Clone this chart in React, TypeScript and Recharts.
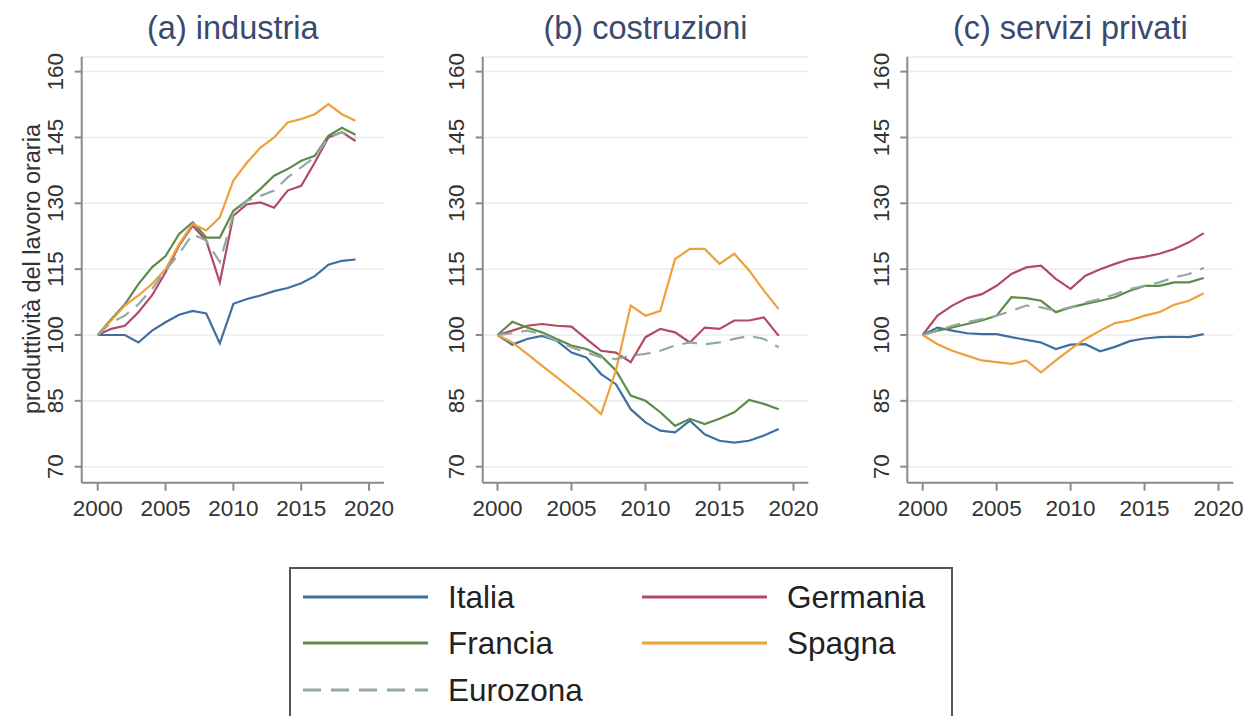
import { LineChart, Line, XAxis, YAxis, CartesianGrid, Label } from 'recharts';

const years = [2000, 2001, 2002, 2003, 2004, 2005, 2006, 2007, 2008, 2009, 2010, 2011, 2012, 2013, 2014, 2015, 2016, 2017, 2018, 2019];
const xTicks = [2000, 2005, 2010, 2015, 2020];
const yTicks = [70, 85, 100, 115, 130, 145, 160];

// (a) industria
const indItalia = [100, 100, 100, 98.3, 101, 102.9, 104.6, 105.5, 104.9, 98.1, 107.1, 108.2, 109, 110, 110.7, 111.8, 113.4, 116, 116.9, 117.2];
const indGermania = [100, 101.4, 102.1, 105.2, 109, 114.3, 120.4, 124.9, 121.5, 112, 127.2, 129.8, 130.2, 129, 132.9, 134, 139.3, 145, 146.2, 144.2];
const indFrancia = [100, 103.6, 107, 111.6, 115.4, 118, 123, 125.7, 122.2, 122.2, 128.3, 130.6, 133.3, 136.3, 137.8, 139.7, 140.8, 145.4, 147.2, 145.6];
const indSpagna = [100, 103.3, 106.7, 109, 111.6, 115, 120.7, 125.3, 123.8, 126.8, 135.2, 139.3, 142.7, 145, 148.4, 149.2, 150.3, 152.6, 150.3, 148.8];
const indEuro = [100, 102.9, 104.4, 107, 110.5, 114.7, 118.5, 123, 121.5, 116.6, 127.6, 130.6, 131.7, 132.9, 135.9, 138.2, 140.5, 145, 146.2, 145];

// (b) costruzioni
const cosItalia = [100, 97.8, 99.1, 99.8, 98.7, 96, 94.9, 91.1, 88.8, 83.1, 80.1, 78.2, 77.8, 80.5, 77.4, 75.9, 75.5, 75.9, 77.1, 78.6];
const cosGermania = [100, 101, 102.1, 102.5, 102.1, 101.9, 99.1, 96.4, 96, 93.8, 99.5, 101.4, 100.6, 98.3, 101.7, 101.4, 103.3, 103.3, 104, 99.8];
const cosFrancia = [100, 103, 101.7, 100.6, 99.1, 97.6, 96.8, 95.3, 91.9, 86.2, 85, 82.4, 79.3, 80.9, 79.7, 80.9, 82.4, 85.2, 84.3, 83.1];
const cosSpagna = [100, 98.3, 95.7, 93, 90.4, 87.7, 85, 82, 91.9, 106.7, 104.4, 105.5, 117.3, 119.6, 119.6, 116.2, 118.5, 114.7, 110.1, 105.9];
const cosEuro = [100, 100.4, 101, 100.2, 98.7, 97.2, 96, 94.9, 94.5, 95.3, 95.7, 96.4, 97.6, 98.3, 97.9, 98.3, 99.1, 99.8, 99.1, 97.2];

// (c) servizi privati
const serItalia = [100, 101.7, 101, 100.4, 100.2, 100.2, 99.5, 98.9, 98.3, 96.8, 97.8, 97.9, 96.3, 97.3, 98.6, 99.2, 99.5, 99.6, 99.5, 100.2];
const serGermania = [100, 104.4, 106.7, 108.4, 109.3, 111.2, 113.9, 115.4, 115.8, 112.8, 110.5, 113.5, 115, 116.2, 117.3, 117.8, 118.5, 119.6, 121.1, 123.2];
const serFrancia = [100, 101, 101.7, 102.5, 103.3, 104.4, 108.6, 108.4, 107.8, 105.2, 106.3, 107.1, 107.8, 108.6, 110.1, 111.2, 111.2, 112, 112, 113];
const serSpagna = [100, 97.9, 96.4, 95.3, 94.2, 93.8, 93.4, 94.2, 91.5, 94.2, 96.8, 99.1, 101, 102.7, 103.3, 104.4, 105.2, 106.9, 107.8, 109.5];
const serEuro = [100, 101, 102.1, 102.9, 103.6, 104.4, 105.5, 106.7, 106.3, 105.5, 106.3, 107.4, 108.2, 109.3, 110.5, 111.2, 112, 113.1, 113.9, 115.3];

const FONT = '"Liberation Sans", Arial, Helvetica, sans-serif';
const AXIS = '#8a8a8a';
const TXT = '#333333';
const TITLE = '#3a4a6e';

const COLORS = {
  Italia: '#3f6f9f',
  Germania: '#b24b62',
  Francia: '#5c8b4c',
  Spagna: '#eea03a',
  Eurozona: '#93aaa3',
};

const CH_H = 530;
const PLOT_TOP = 56.7;
const PLOT_BOTTOM = 482.7;
const Y_AXIS_W = 60;
const X_AXIS_H = 40;

const buildRows = (it: number[], de: number[], fr: number[], es: number[], ez: number[]) =>
  years.map((year, i) => ({
    year,
    Italia: it[i],
    Germania: de[i],
    Francia: fr[i],
    Spagna: es[i],
    Eurozona: ez[i],
  }));

const panels = [
  {
    title: '(a) industria',
    left: 0,
    width: 400,
    plotLeft: 81.7,
    plotRight: 384,
    xDomain: [1998.82, 2021.1],
    rows: buildRows(indItalia, indGermania, indFrancia, indSpagna, indEuro),
    yTitle: true,
  },
  {
    title: '(b) costruzioni',
    left: 400,
    width: 420,
    plotLeft: 82.7,
    plotRight: 408.3,
    xDomain: [1999.0, 2021.0],
    rows: buildRows(cosItalia, cosGermania, cosFrancia, cosSpagna, cosEuro),
    yTitle: false,
  },
  {
    title: '(c) servizi privati',
    left: 820,
    width: 426,
    plotLeft: 87.3,
    plotRight: 413.3,
    xDomain: [1998.96, 2021.0],
    rows: buildRows(serItalia, serGermania, serFrancia, serSpagna, serEuro),
    yTitle: false,
  },
];

const XTick = (props: any) => {
  const { x, payload } = props;
  return (
    <text x={x} y={516} textAnchor="middle" fill={TXT} fontSize={22.5} fontFamily={FONT}>
      {payload.value}
    </text>
  );
};

const makeYTick = (plotLeft: number) => (props: any) => {
  const { y, payload } = props;
  const bx = plotLeft - 18.4;
  return (
    <text
      x={bx}
      y={y}
      textAnchor="middle"
      fill={TXT}
      fontSize={22.5}
      fontFamily={FONT}
      transform={`rotate(-90, ${bx}, ${y})`}
    >
      {payload.value}
    </text>
  );
};

const YTitle = () => (
  <text
    x={39.5}
    y={269}
    textAnchor="middle"
    fill={TXT}
    fontSize={23.5}
    fontFamily={FONT}
    transform="rotate(-90, 39.5, 269)"
  >
    produttività del lavoro oraria
  </text>
);

const series = ['Italia', 'Germania', 'Francia', 'Spagna', 'Eurozona'] as const;

function Panel({ p }: { p: (typeof panels)[number] }) {
  const margin = {
    top: PLOT_TOP,
    bottom: CH_H - PLOT_BOTTOM - X_AXIS_H,
    left: p.plotLeft - Y_AXIS_W,
    right: p.width - p.plotRight,
  };
  return (
    <div style={{ position: 'absolute', left: p.left, top: 0 }}>
      <div
        style={{
          position: 'absolute',
          left: p.plotLeft - 100,
          width: p.plotRight - p.plotLeft + 200,
          top: 10,
          textAlign: 'center',
          fontFamily: FONT,
          fontSize: 32.5,
          color: TITLE,
          whiteSpace: 'nowrap',
        }}
      >
        {p.title}
      </div>
      <LineChart width={p.width} height={CH_H} data={p.rows} margin={margin}>
        <CartesianGrid horizontal vertical={false} stroke="#ececec" strokeWidth={1.5} />
        <XAxis
          dataKey="year"
          type="number"
          domain={p.xDomain}
          ticks={xTicks}
          allowDataOverflow
          height={X_AXIS_H}
          stroke={AXIS}
          strokeWidth={2}
          tickSize={8}
          tick={<XTick />}
          interval={0}
        />
        <YAxis
          type="number"
          domain={[66.35, 163.4]}
          ticks={yTicks}
          allowDataOverflow
          width={Y_AXIS_W}
          stroke={AXIS}
          strokeWidth={2}
          tickSize={7}
          tick={makeYTick(p.plotLeft)}
          interval={0}
        >
          {p.yTitle && <Label content={<YTitle />} />}
        </YAxis>
        {series.map((s) => (
          <Line
            key={s}
            dataKey={s}
            type="linear"
            stroke={COLORS[s]}
            strokeWidth={2.2}
            strokeDasharray={s === 'Eurozona' ? '15 9' : undefined}
            dot={false}
            activeDot={false}
            isAnimationActive={false}
          />
        ))}
      </LineChart>
    </div>
  );
}

const legendItems = [
  { name: 'Italia', x: 303, y: 597 },
  { name: 'Germania', x: 642, y: 597 },
  { name: 'Francia', x: 303, y: 643 },
  { name: 'Spagna', x: 642, y: 643 },
  { name: 'Eurozona', x: 303, y: 690 },
] as const;

export default function App() {
  return (
    <div
      style={{
        position: 'fixed',
        left: 0,
        top: 0,
        width: 1246,
        height: 716,
        overflow: 'hidden',
        background: '#ffffff',
      }}
    >
      {panels.map((p) => (
        <Panel key={p.title} p={p} />
      ))}
      <svg width={1246} height={716} style={{ position: 'absolute', left: 0, top: 0 }}>
        <rect x={290} y={568} width={662} height={200} fill="#ffffff" stroke="#555555" strokeWidth={2} />
        {legendItems.map((it) => (
          <g key={it.name}>
            <line
              x1={it.x}
              x2={it.x + 125}
              y1={it.y}
              y2={it.y}
              stroke={COLORS[it.name]}
              strokeWidth={3}
              strokeDasharray={it.name === 'Eurozona' ? '18 10' : undefined}
            />
            <text x={it.x + 145} y={it.y + 11} fill="#222222" fontSize={31.5} fontFamily={FONT}>
              {it.name}
            </text>
          </g>
        ))}
      </svg>
    </div>
  );
}
